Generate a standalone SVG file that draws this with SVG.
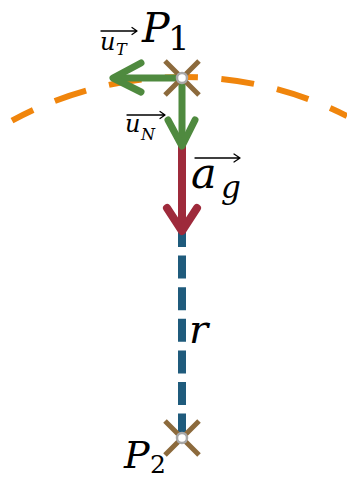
<svg xmlns="http://www.w3.org/2000/svg" width="347" height="480" viewBox="0 0 347 480">
<style>
.m{font-family:"DejaVu Serif","Liberation Serif",serif;font-style:italic;fill:#000}
.d{font-family:"DejaVu Serif","Liberation Serif",serif;fill:#000}
.vec{stroke:#000;stroke-width:1.3;fill:none;stroke-linecap:round;stroke-linejoin:round}
.x{stroke:#8c6a3c;stroke-width:5;fill:none}
.pt{fill:#fff;stroke:#a8a8a8;stroke-width:2.5}
</style>
<rect width="347" height="480" fill="#fff"/>
<g id="connectors" stroke-linecap="round" stroke-linejoin="round" fill="none">
<path id="arc" d="M12,120.7 A360,360 0 0 1 347,116" stroke="#f0850c" stroke-width="6" stroke-linecap="butt" stroke-dasharray="33 23.5" stroke-dashoffset="9.3"/>
<line id="radius" x1="182" y1="224" x2="182" y2="438" stroke="#1f5b7c" stroke-width="8" stroke-linecap="butt" stroke-dasharray="23 8.6"/>
<g id="ag" stroke="#9e2a3b" stroke-width="8">
<line x1="182" y1="146" x2="182" y2="229"/>
<polyline points="167,208 182,231 197,208"/>
</g>
<g id="uN" stroke="#4f8a3f" stroke-width="7">
<line x1="182" y1="78" x2="182" y2="144"/>
<polyline points="168,120 182,146 195,120"/>
</g>
<g id="uT" stroke="#4f8a3f" stroke-width="7">
<line x1="182" y1="78" x2="115" y2="78"/>
<polyline points="141,63 113,78 141,92"/>
</g>
</g>
<g id="P1">
<path class="x" d="M165,61 L199,95 M199,61 L165,95"/>
<circle class="pt" cx="182" cy="78" r="5"/>
<text class="m" x="142" y="42" font-size="41">P</text>
<text class="d" x="168" y="50" font-size="34">1</text>
</g>
<g id="P2">
<path class="x" d="M165,421 L199,455 M199,421 L165,455"/>
<circle class="pt" cx="182" cy="438" r="5"/>
<text class="m" x="124" y="468" font-size="38">P</text>
<text class="d" x="150" y="473" font-size="25">2</text>
</g>
<g id="label-uT">
<path class="vec" d="M101,31 H137 M132,27.5 L137,31 L132,34.5"/>
<text class="m" x="100" y="50" font-size="24">u</text>
<text class="m" x="116" y="55" font-size="16">T</text>
</g>
<g id="label-uN">
<path class="vec" d="M127,115 H165 M160,111.5 L165,115 L160,118.5"/>
<text class="m" x="125" y="132" font-size="24">u</text>
<text class="m" x="141" y="140" font-size="16">N</text>
</g>
<g id="label-ag">
<path class="vec" d="M195,158 H240 M234,154 L240,158 L234,162"/>
<text class="m" x="191" y="188" font-size="43">a</text>
<text class="m" x="221" y="198" font-size="31">g</text>
</g>
<g id="label-r">
<text class="m" x="189" y="343" font-size="40">r</text>
</g>
</svg>
